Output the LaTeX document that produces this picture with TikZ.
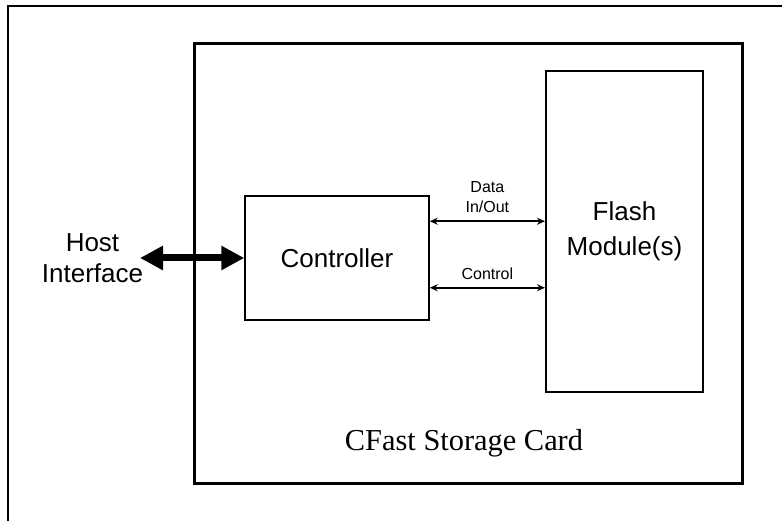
\documentclass[tikz,border=0pt]{standalone}
\usepackage{fontspec}
\setmainfont{Liberation Sans}
\newfontfamily\cardfont{Liberation Serif}
\usetikzlibrary{positioning}
\usetikzlibrary{calc}
\usetikzlibrary{arrows.meta}

\begin{document}
\begin{tikzpicture}[x=1pt, y=-1pt,
    block/.style={draw, rectangle, inner sep=0pt, align=center,
        font=\fontsize{26}{33}\selectfont},
    link/.style={line width=1.7pt, {Stealth[length=8pt, width=7pt]}-{Stealth[length=8pt, width=7pt]}},
    smalltext/.style={font=\fontsize{16}{20}\selectfont, align=center}]
    \newcommand\pagew{782}
\newcommand\pageh{521}

\useasboundingbox (0, 0) rectangle (\pagew, \pageh);

\draw[line width=2pt] (\pagew + 10, 6) -- (8, 6) -- (8, \pageh + 10);

\draw[line width=3pt] (194, 44) coordinate (card-tl) rectangle
    (742, 483) coordinate (card-br);

\node[font=\cardfont\fontsize{30.4}{36}\selectfont, anchor=base]
    (card-label) at (464, 450) {CFast Storage Card};

\node[block, line width=1.5pt, minimum width=184pt, minimum height=124pt]
    (ctrl) at (337, 258) {Controller};

\node[block, line width=2pt, minimum width=157pt, minimum height=321pt,
    font=\fontsize{26}{35}\selectfont]
    (flash) at (624.5, 231.5) {Flash\\Module(s)};

\node[block, draw=none, font=\fontsize{26}{31}\selectfont]
    (host) at (92.5, 258) {Host\\Interface};

    % host link
    \draw[line width=7pt, {Triangle[length=23pt, width=23pt]}-{Triangle[length=23pt, width=23pt]}]
        (140, 258 |- ctrl.west) coordinate (host-tip) -- (ctrl.west);

    \coordinate (data-l) at ([yshift=-26pt]ctrl.north east);
    \coordinate (ctl-l) at ([yshift=33pt]ctrl.south east);

    \draw[link] (data-l) -- (data-l -| flash.west)
        node[midway, above=4pt, smalltext] (data-label) {Data\\In/Out};
    \draw[link] (ctl-l) -- (ctl-l -| flash.west)
        node[midway, above=4pt, smalltext] (ctl-label) {Control};
\end{tikzpicture}
\end{document}
